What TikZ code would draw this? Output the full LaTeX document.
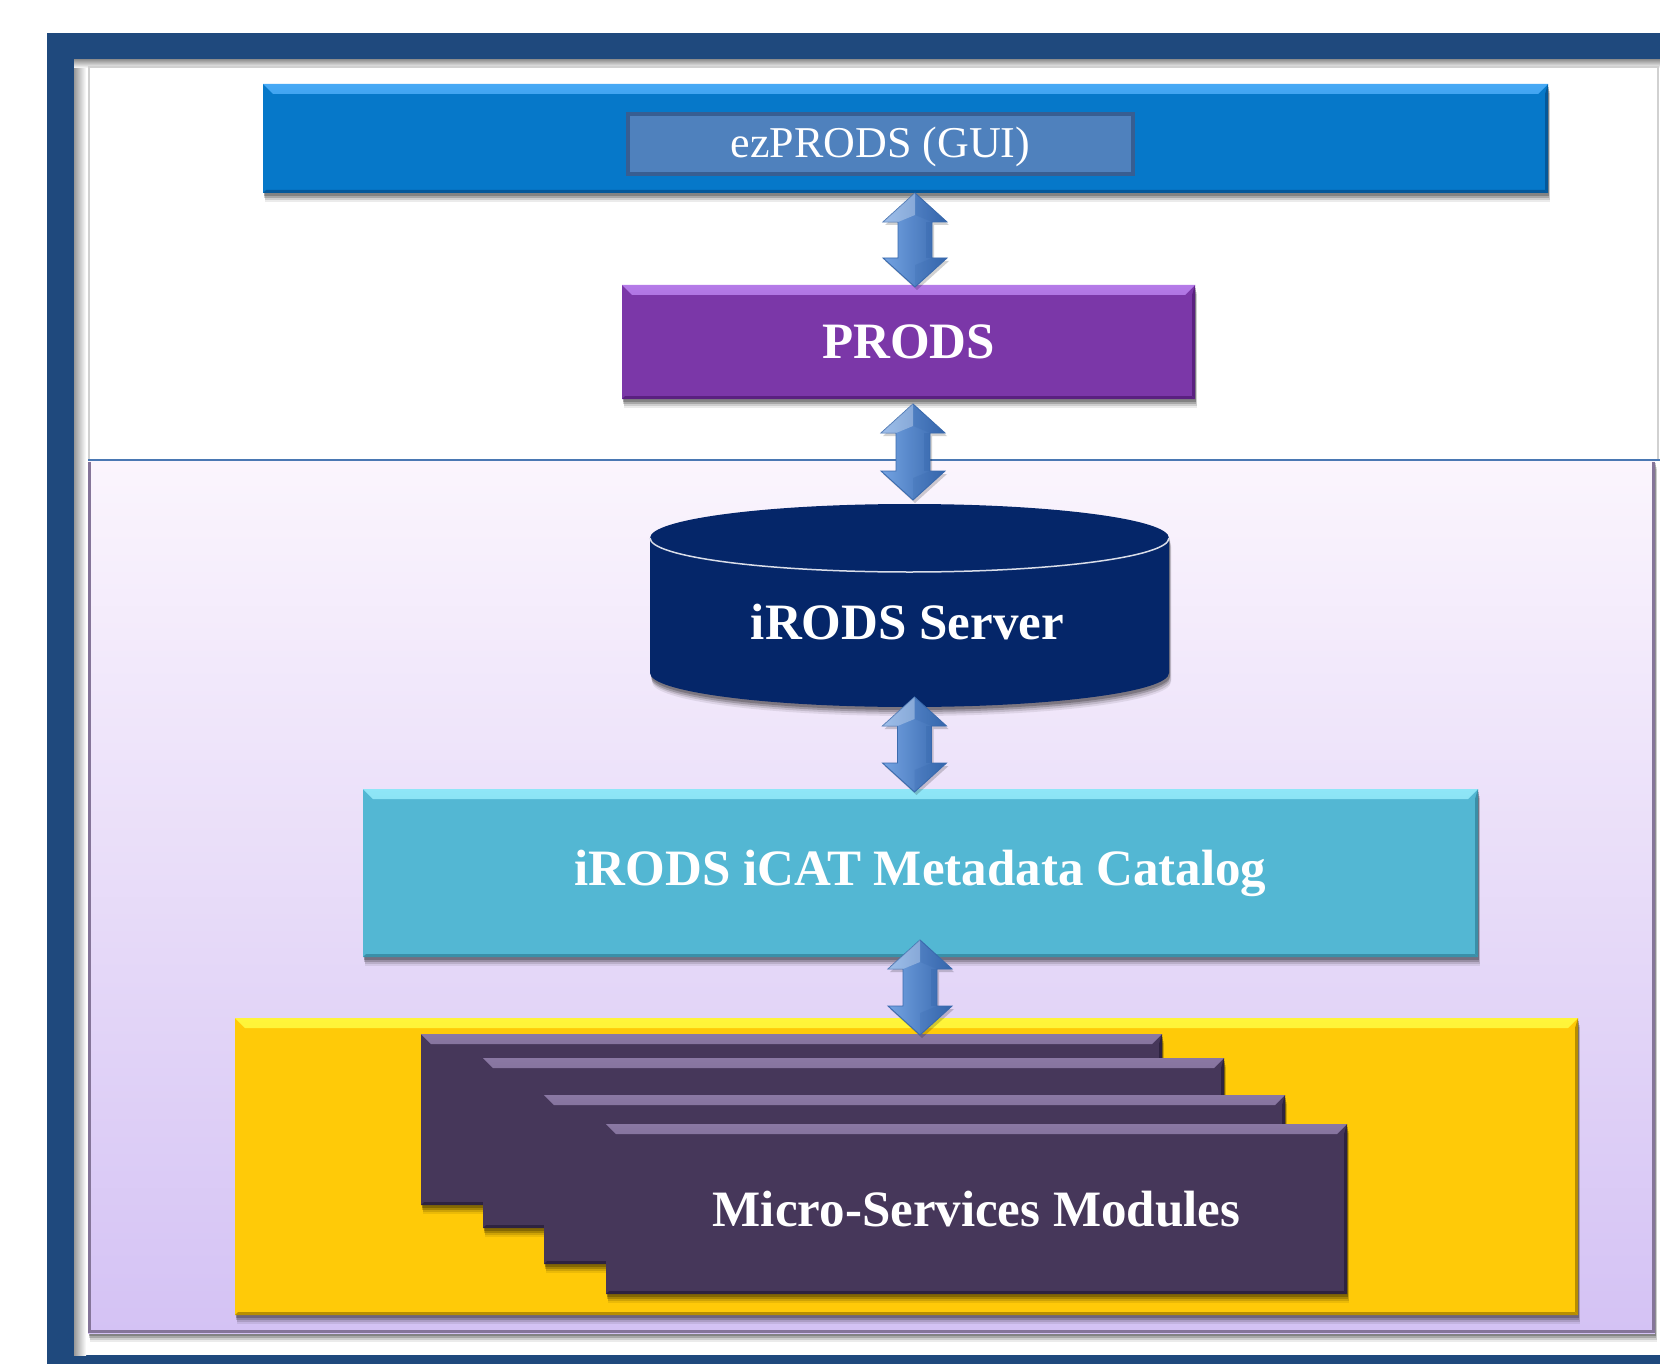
\documentclass[tikz,border=0pt]{standalone}
\usepackage{fontspec}
\setmainfont{Liberation Serif}
\usetikzlibrary{shadows}
\definecolor{frameblue}{HTML}{1F497D}
\definecolor{bluebar}{HTML}{0678C9}
\definecolor{bluehi}{HTML}{47A9F5}
\definecolor{bluedk}{HTML}{04589A}
\definecolor{ezfill}{HTML}{4F81BD}
\definecolor{ezdraw}{HTML}{375E92}
\definecolor{prods}{HTML}{7B37A8}
\definecolor{prodshi}{HTML}{B57BE8}
\definecolor{prodsdk}{HTML}{5A2080}
\definecolor{cyl}{HTML}{052669}
\definecolor{icat}{HTML}{53B7D3}
\definecolor{icathi}{HTML}{8FE6F7}
\definecolor{icatdk}{HTML}{3A8FA8}
\definecolor{yel}{HTML}{FFCA08}
\definecolor{yelhi}{HTML}{FFF53A}
\definecolor{yeldk}{HTML}{B88E00}
\definecolor{msbox}{HTML}{46375A}
\definecolor{mshi}{HTML}{8A78A3}
\definecolor{msdk}{HTML}{2E2340}
\definecolor{lavtop}{HTML}{FBF5FD}
\definecolor{lavbot}{HTML}{D4C2F4}
\definecolor{lavedge}{HTML}{857599}
\definecolor{sepblue}{HTML}{4A78B3}
\definecolor{arlight}{HTML}{C2DCF8}
\definecolor{armid}{HTML}{74A3E2}
\definecolor{ardark}{HTML}{3566AC}
\definecolor{arline}{HTML}{3B6BAE}
\tikzset{
  bev/.style n args={3}{rectangle, inner sep=0pt, outer sep=0pt, fill=#1,
    path picture={
      \shade[top color=#2, bottom color=#1]
        (path picture bounding box.north west) -- (path picture bounding box.north east)
        -- ([xshift=-10pt,yshift=-10pt]path picture bounding box.north east)
        -- ([xshift=10pt,yshift=-10pt]path picture bounding box.north west) -- cycle;
      \fill[#3]
        (path picture bounding box.south west) -- (path picture bounding box.south east)
        -- ([xshift=-3pt,yshift=3pt]path picture bounding box.south east)
        -- ([xshift=3pt,yshift=3pt]path picture bounding box.south west) -- cycle;
      \fill[#3]
        (path picture bounding box.north east) -- (path picture bounding box.south east)
        -- ([xshift=-3pt,yshift=3pt]path picture bounding box.south east)
        -- ([xshift=-3pt,yshift=-10pt]path picture bounding box.north east) -- cycle;
    }},
  shd/.style={
    general shadow={shadow xshift=2pt, shadow yshift=-9pt, fill=black, opacity=0.08},
    general shadow={shadow xshift=2pt, shadow yshift=-7pt, fill=black, opacity=0.12},
    general shadow={shadow xshift=1pt, shadow yshift=-5pt, fill=black, opacity=0.18},
    general shadow={shadow xshift=1pt, shadow yshift=-3pt, fill=black, opacity=0.22}},
  lbl/.style={text=white, font=\fontsize{51}{60}\selectfont\bfseries, inner sep=0pt},
  arrowbody/.style={left color=armid, middle color=arlight, right color=ardark, draw=arline, line width=0.9pt, line join=miter},
  arrowshadow/.style={fill=black, opacity=0.18}
}
% block double arrow: name, x, y of top tip, y of bottom tip
\newcommand{\blockarrow}[4]{%
  \coordinate (#1) at (#2,{(#3+#4)/2});
  \fill[arrowshadow] ({#2+2},{#3+3}) -- ({#2+34},{#3+32}) -- ({#2+19},{#3+32}) -- ({#2+19},{#4-26})
    -- ({#2+34},{#4-26}) -- ({#2+2},{#4+3}) -- ({#2-30},{#4-26}) -- ({#2-15},{#4-26})
    -- ({#2-15},{#3+32}) -- ({#2-30},{#3+32}) -- cycle;
  \path[arrowbody] (#2,#3) -- ({#2+32},{#3+29}) -- ({#2+17},{#3+29}) -- ({#2+17},{#4-29})
    -- ({#2+32},{#4-29}) -- (#2,#4) -- ({#2-32},{#4-29}) -- ({#2-17},{#4-29})
    -- ({#2-17},{#3+29}) -- ({#2-32},{#3+29}) -- cycle;
  \fill[ardark, opacity=0.22] (#2,#3) -- ({#2+32},{#3+29}) -- ({#2+17},{#3+29}) -- (#2,{#3+22}) -- cycle;
  \fill[ardark, opacity=0.22] (#2,#4) -- ({#2+32},{#4-29}) -- ({#2+17},{#4-29}) -- (#2,{#4-22}) -- cycle;
  \fill[white, opacity=0.3] (#2,#3) -- ({#2-32},{#3+29}) -- ({#2-17},{#3+29}) -- (#2,{#3+22}) -- cycle;
  \fill[ardark, opacity=0.35] ({#2+11},{#3+29}) rectangle ({#2+17},{#4-29});
}
\begin{document}
\begin{tikzpicture}[x=1pt,y=-1pt]
\useasboundingbox (0,0) rectangle (1660,1364);
\clip (0,0) rectangle (1660,1364);
\fill[white] (0,0) rectangle (1660,1364);
% outer frame
\fill[frameblue] (47,33) rectangle (1680,1380);
\fill[white] (74,60) rectangle (1680,1355);
\shade[left color=black!40, right color=white] (74,60) rectangle (86,1355);
\shade[top color=black!40, bottom color=white] (74,60) rectangle (1680,68);
% top panel
\draw[black!18, line width=1.5pt, fill=white] (89,67) rectangle (1658,460);
% lavender panel
\shade[top color=lavtop, bottom color=lavbot, shd] (88,460) rectangle (1655,1333);
\draw[lavedge, line width=3pt] (89.5,462) -- (89.5,1331.5) -- (1653.5,1331.5) -- (1653.5,462);
\draw[sepblue, line width=2.5pt] (88,460) -- (1670,460);
% ezPRODS bar
\node[bev={bluebar}{bluehi}{bluedk}, minimum width=1285pt, minimum height=109pt, shd] (gui) at (905.5,138.5) {};
\node[fill=ezfill, draw=ezdraw, line width=4pt, minimum width=505pt, minimum height=60pt, inner sep=0pt] (ez) at (880.5,144) {};
\node[text=white, font=\fontsize{44}{52}\selectfont, inner sep=0pt] (eztext) at (880.5,147) {ezPRODS (GUI)};
% PRODS
\node[bev={prods}{prodshi}{prodsdk}, minimum width=573pt, minimum height=114pt, shd, lbl] (prods) at (908.5,342) {PRODS};
% iRODS server cylinder
\fill[cyl, shd] (650,538) -- (650,673) .. controls (650,691.8) and (766.2,707) .. (909.5,707)
  .. controls (1052.8,707) and (1169,691.8) .. (1169,673) -- (1169,538)
  .. controls (1169,519.2) and (1052.8,504) .. (909.5,504)
  .. controls (766.2,504) and (650,519.2) .. (650,538) -- cycle;
\draw[white!85!cyl, line width=1.5pt] (650,538) .. controls (650,556.8) and (766.2,572) .. (909.5,572)
  .. controls (1052.8,572) and (1169,556.8) .. (1169,538);
\node[lbl] (srv) at (907.5,622) {iRODS Server};
% iCAT
\node[bev={icat}{icathi}{icatdk}, minimum width=1115pt, minimum height=168pt, shd, lbl] (icat) at (920.5,873) {iRODS iCAT Metadata Catalog};
% yellow container
\node[bev={yel}{yelhi}{yeldk}, minimum width=1343pt, minimum height=297pt, shd] (yb) at (906.5,1166.5) {};
% stacked modules
\node[bev={msbox}{mshi}{msdk}, minimum width=741pt, minimum height=171pt, shd] (m1) at (791.5,1119.5) {};
\node[bev={msbox}{mshi}{msdk}, minimum width=741pt, minimum height=170pt, shd] (m2) at (853.5,1143) {};
\node[bev={msbox}{mshi}{msdk}, minimum width=741pt, minimum height=169pt, shd] (m3) at (914.5,1179.5) {};
\node[bev={msbox}{mshi}{msdk}, minimum width=741pt, minimum height=170pt, shd, lbl] (m4) at (976.5,1209) {Micro-Services Modules};
% double arrows
\blockarrow{a1}{915}{193}{287}
\blockarrow{a2}{913}{404}{500}
\blockarrow{a3}{914.5}{697}{792}
\blockarrow{a4}{920}{940}{1035}
\end{tikzpicture}
\end{document}
